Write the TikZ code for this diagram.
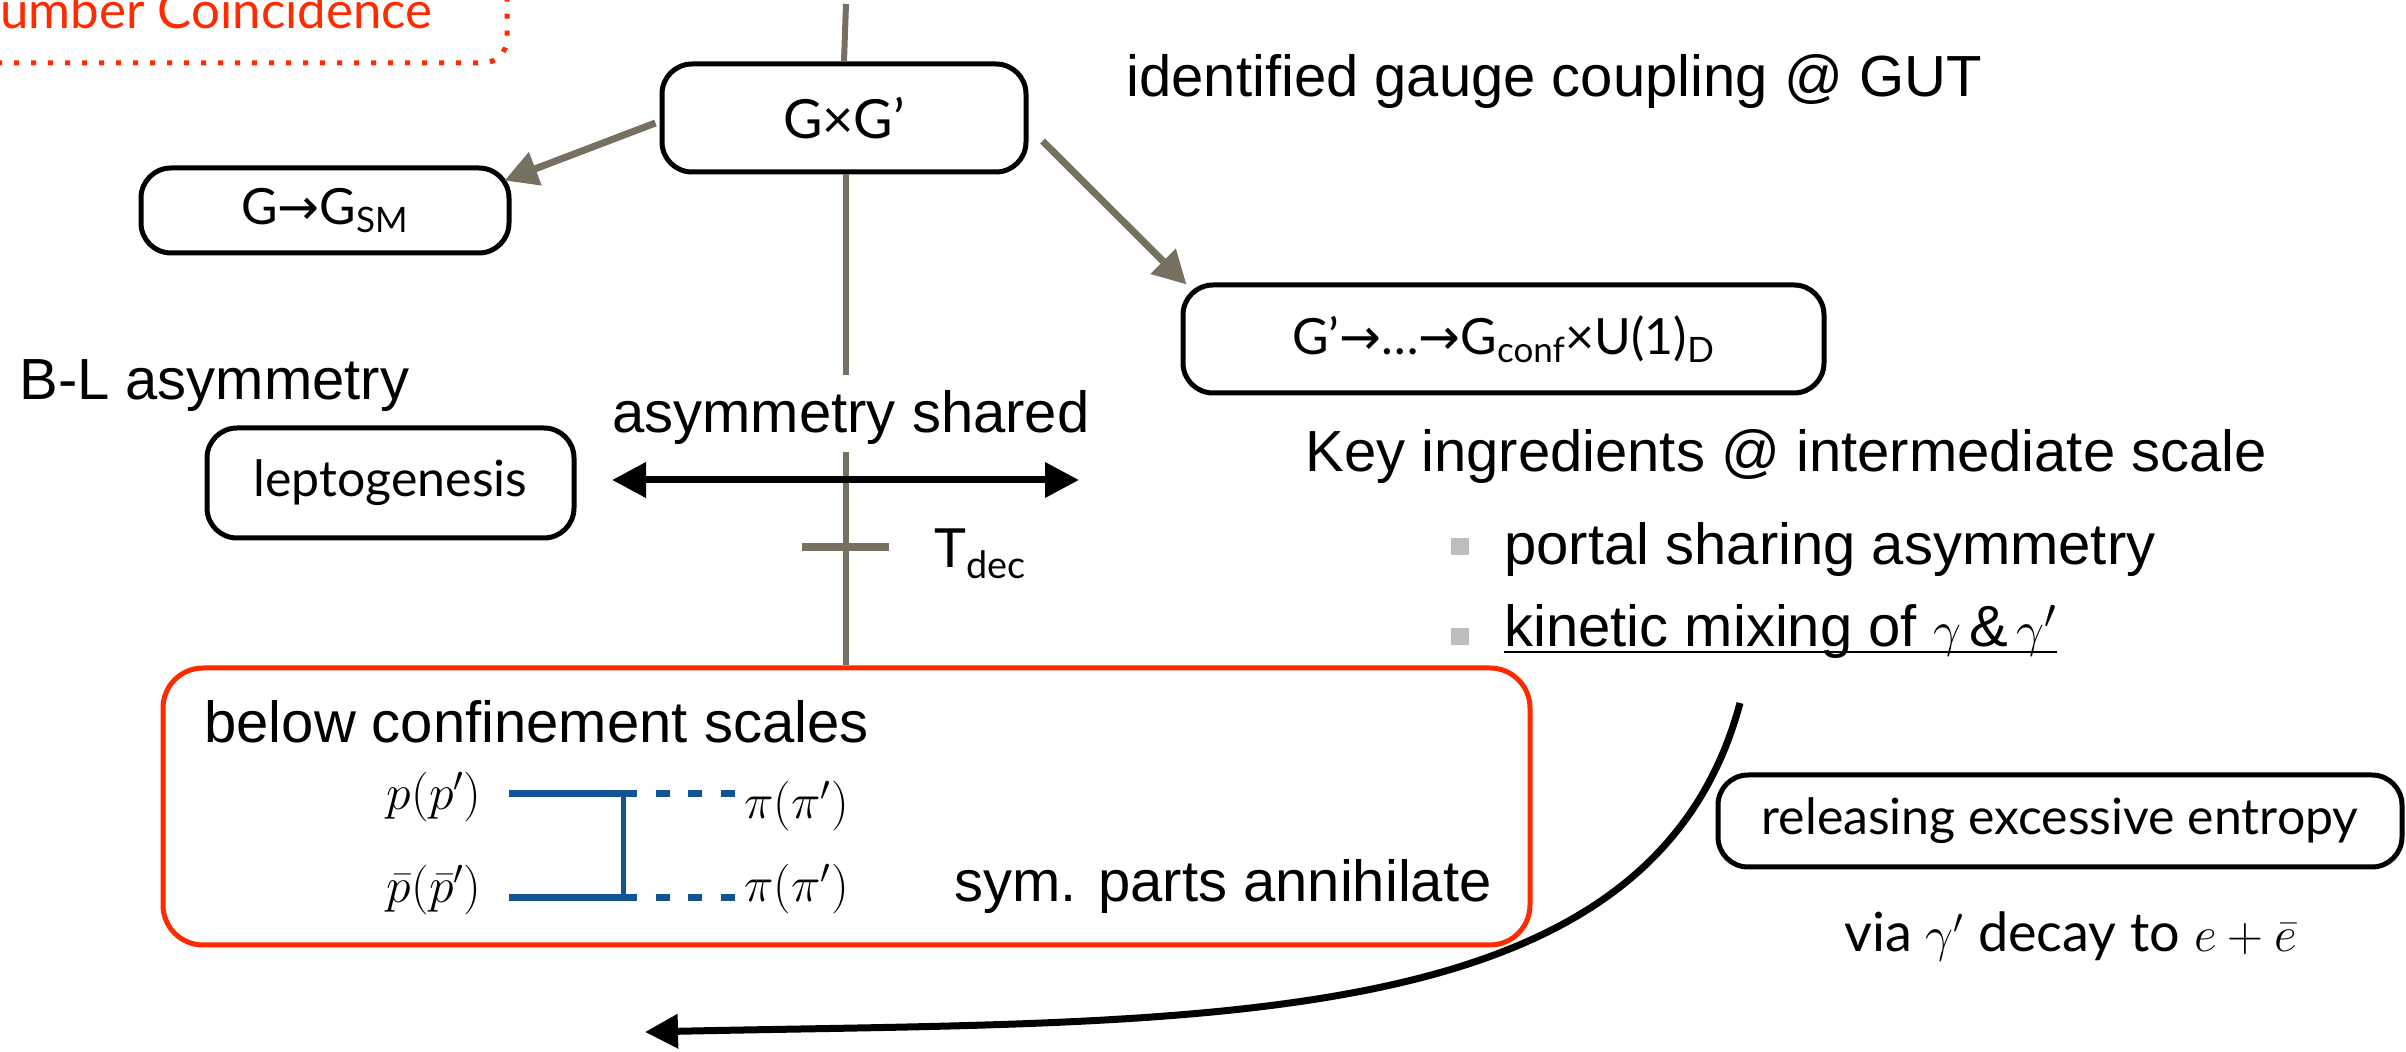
\documentclass[tikz,border=0pt]{standalone}
\usepackage{fontspec}
\setmainfont{Liberation Sans}
\newfontfamily\gill{Lato}
\newfontfamily\djv{DejaVu Sans}
\usetikzlibrary{arrows.meta}
\definecolor{tlgray}{RGB}{118,112,97}
\definecolor{hred}{RGB}{255,42,0}
\definecolor{hblue}{RGB}{16,84,150}
\definecolor{bulgray}{RGB}{190,190,190}
\begin{document}
\begin{tikzpicture}[x=0.5pt,y=-0.5pt,
  box/.style={draw=black, line width=2.5pt, rounded corners=15pt, fill=white, inner sep=0pt, font=\gill\fontsize{25}{30}\selectfont},
  freetext/.style={inner sep=0pt, anchor=base west, font=\fontsize{29}{35}\selectfont},
  gilltext/.style={inner sep=0pt, anchor=base west, font=\gill\fontsize{25}{30}\selectfont},
  mathlbl/.style={inner sep=0pt, font=\fontsize{24}{28}\selectfont},
  tline/.style={draw=tlgray, line width=3pt},
  garrow/.style={draw=tlgray, line width=3.5pt, -{Triangle[length=16.5pt,width=17pt]}},
  barrow/.style={draw=black, line width=3.5pt, {Triangle[length=17pt,width=17pt]}-{Triangle[length=17pt,width=17pt]}},
  cArrow/.style={draw=black, line width=3.5pt, -{Triangle[length=16.5pt,width=16.5pt]}},
  bsolid/.style={draw=hblue, line width=3.5pt},
  bdash/.style={draw=hblue, line width=3.5pt, dash pattern=on 7pt off 9.33pt, dash phase=7pt},
  bullet/.style={fill=bulgray, inner sep=0pt, minimum width=9pt, minimum height=8.5pt}
]
\useasboundingbox (0,0) rectangle (2406,1052);

% red dotted frame (top-left, cut off)
\node[gilltext, text=hred, font=\gill\fontsize{25.5}{30}\selectfont] (coinc) at (0,29) {umber Coincidence};
\draw[hred, line width=2.5pt, dash pattern=on 2.5pt off 6pt, rounded corners=12pt] (-20,63) -- (507,63) -- (507,-20);

% boxes
\node[box, minimum width=182pt, minimum height=54pt, font=\gill\fontsize{27}{30}\selectfont] (GG) at (844,118) {G×G’};
\node[box, minimum width=184pt, minimum height=42.5pt] (GSM) at (325,210.5) {G{\djv →}G\textsubscript{SM}};
\node[box, minimum width=320.5pt, minimum height=54pt] (Gp) at (1503.5,339) {G’{\djv →}…{\djv →}G\textsubscript{conf}×U(1)\textsubscript{D}};
\node[box, minimum width=183.5pt, minimum height=55pt] (lepto) at (390.5,483) {leptogenesis};
\node[box, minimum width=342pt, minimum height=46pt] (rel) at (2060,821) {releasing excessive entropy};
\node[draw=hred, line width=2.5pt, rounded corners=20pt, minimum width=683.5pt, minimum height=138.5pt] (red) at (846.5,806.5) {};

% time line
\coordinate (ttop) at (846,4);
\coordinate (gapA) at (846,375);
\coordinate (gapB) at (846,452);
\coordinate (tickL) at (802,547);
\coordinate (tickR) at (889,547);
\draw[tline] (ttop) -- (GG.north);
\draw[tline] (GG.south -| ttop) -- (gapA);
\draw[tline] (gapB) -- (red.north -| ttop);
\draw[draw=tlgray, line width=4pt] (tickL) -- (tickR);

% gray arrows
\draw[garrow] ([xshift=-2pt,yshift=-2.5pt]GG.west) -- ([xshift=-3.5pt,yshift=-7.5pt]GSM.north east);
\draw[garrow] ([xshift=7pt,yshift=-11.5pt]GG.east) -- ([xshift=3pt,yshift=-1pt]Gp.north west);

% double arrow
\coordinate (dL) at (612,480);
\coordinate (dR) at (1079,480);
\draw[barrow] (dL) -- (dR);

% free texts
\node[freetext] (gut) at (1126,97) {identified gauge coupling @ GUT};
\node[freetext] (bl) at (19,400) {B-L asymmetry};
\node[freetext] (shared) at (612,433) {asymmetry shared};
\node[gilltext, font=\gill\fontsize{27}{30}\selectfont] (tdec) at (934,568) {T\textsubscript{dec}};
\node[freetext] (key) at (1305,472) {Key ingredients @ intermediate scale};
\node[bullet] (b1) at (1460,546.5) {};
\node[bullet] (b2) at (1460,636.5) {};
\node[freetext] (portal) at (1504,565) {portal sharing asymmetry};
\node[freetext] (kin) at (1504,647) {kinetic mixing of $\gamma\,\&\,\gamma'$};
\draw[line width=1pt] ([yshift=-2.5pt]kin.base west) -- ([yshift=-2.5pt]kin.base east);
\node[freetext] (below) at (204,743) {below confinement scales};
\node[freetext] (sym) at (954,902) {sym. parts annihilate};
\node[gilltext, font=\gill\fontsize{27}{30}\selectfont] (via) at (1844,952) {via $\gamma'$ decay to $e+\bar{e}$};

% annihilation diagram
\node[mathlbl, anchor=east] (p1) at (482,797) {$p(p')$};
\node[mathlbl, anchor=east] (p2) at (482,890) {$\bar{p}(\bar{p}')$};
\node[mathlbl, anchor=west] (pi1) at (744,806) {$\pi(\pi')$};
\node[mathlbl, anchor=west] (pi2) at (744,889) {$\pi(\pi')$};
\coordinate (a1) at (509,794);
\coordinate (e1) at (637,794);
\coordinate (d1) at (735,794);
\coordinate (a2) at (509,898);
\coordinate (e2) at (637,898);
\coordinate (d2) at (735,898);
\coordinate (v1) at (623,794);
\coordinate (v2) at (623,898);
\draw[bsolid] (a1) -- (e1);
\draw[bsolid] (a2) -- (e2);
\draw[draw=hblue, line width=2.5pt] (v1) -- (v2);
\draw[bdash] (e1) -- (d1);
\draw[bdash] (e2) -- (d2);

% curved arrow
\coordinate (cs) at (1740,703);
\coordinate (ce) at (645,1032);
\draw[cArrow] (cs) .. controls (1650,1040) and (1200,1020) .. (ce);
\end{tikzpicture}
\end{document}
